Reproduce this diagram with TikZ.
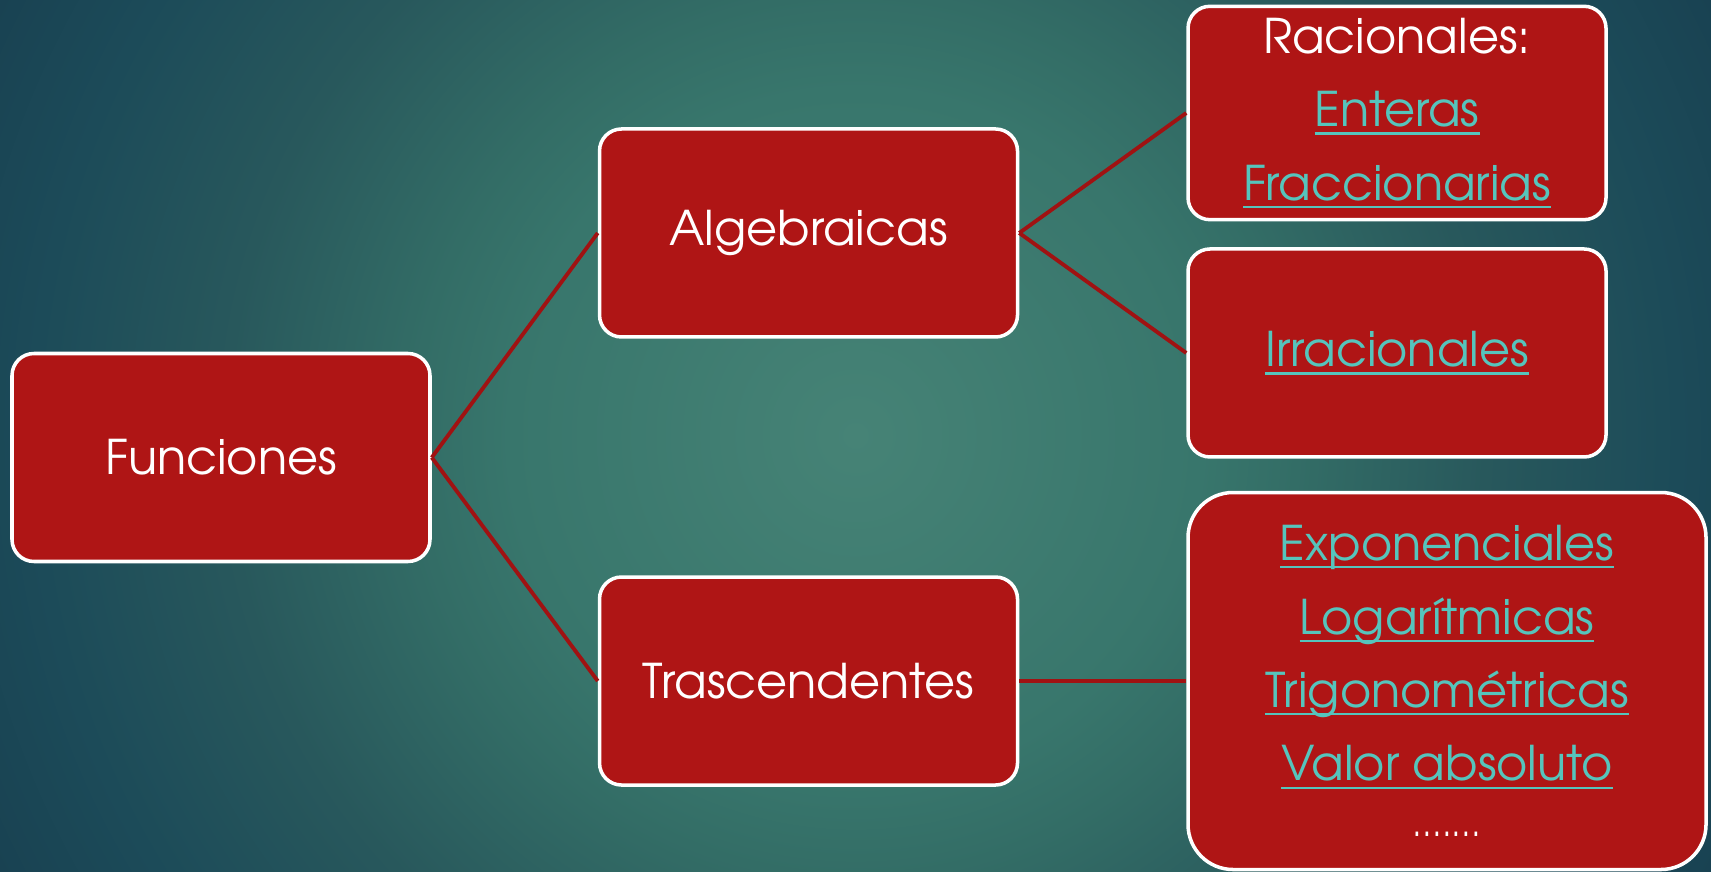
\documentclass[tikz,border=0pt]{standalone}
\usepackage{fontspec}
\setmainfont{TeX Gyre Adventor}
\usepackage{xcolor}
\usetikzlibrary{shapes, arrows.meta, positioning, calc}

\definecolor{boxred}{RGB}{175,21,21}
\definecolor{linkred}{RGB}{160,18,18}
\definecolor{linkteal}{RGB}{86,196,188}
% background ring colours, centre to rim
\definecolor{bgA}{RGB}{70,131,118}
\definecolor{bgB}{RGB}{56,118,108}
\definecolor{bgC}{RGB}{51,109,102}
\definecolor{bgD}{RGB}{40,88,92}
\definecolor{bgE}{RGB}{28,75,89}
\definecolor{bgF}{RGB}{25,66,82}

\pgfdeclareradialshading{slidebg}{\pgfpoint{0bp}{0bp}}{%
  color(0bp)=(bgA); color(9bp)=(bgB); color(11.5bp)=(bgC); color(16.4bp)=(bgD); color(21.4bp)=(bgE); color(25bp)=(bgF); color(50bp)=(bgF)}

\newsavebox{\linkbox}
\newcommand{\hlink}[1]{\textcolor{linkteal}{\sbox{\linkbox}{#1}\rlap{\rule[-2.2pt]{\wd\linkbox}{0.6pt}}\usebox{\linkbox}}}

\begin{document}
\begin{tikzpicture}[
                every node/.style={font=\fontsize{13.6}{20.9}\selectfont, text=white},
                branch/.style={rectangle, rounded corners=0.22cm, draw=white, line width=1pt, fill=boxred, minimum width=4.18cm, minimum height=2.08cm, align=center},
                biglist/.style={branch, rounded corners=0.45cm, minimum width=5.18cm, minimum height=3.77cm},
                line/.style={draw=linkred, line width=1.1pt}
            ]
            \begin{scope}
                \clip (0,0) rectangle (17.11,8.71);
                \shade[shading=slidebg] (8.555,4.355) circle (9.6cm);
            \end{scope}
            \useasboundingbox (0,0) rectangle (17.11,8.71);

            \node[branch] (fun) at (2.21,4.135) {Funciones};
            \node[branch, above right=0.13cm and 1.66cm of fun] (alg) {Algebraicas};
            \node[branch, below right=0.12cm and 1.66cm of fun] (tra) {Trascendentes};

            \node[branch, right=1.67cm of alg, yshift=1.2cm] (rac) {Racionales:\\ \hlink{Enteras}\\ \hlink{Fraccionarias}};
            \node[branch, right=1.67cm of alg, yshift=-1.2cm] (irr) {\hlink{Irracionales}};
            \node[biglist, right=1.67cm of tra] (tlist) {\hlink{Exponenciales}\\ \hlink{Logarítmicas}\\ \hlink{Trigonométricas}\\ \hlink{Valor absoluto}\\[-5pt] {\fontsize{10}{12}\selectfont .......}};

            \draw[line] (fun.east) -- (alg.west);
            \draw[line] (fun.east) -- (tra.west);
            \draw[line] (alg.east) -- (rac.west);
            \draw[line] (alg.east) -- (irr.west);
            \draw[line] (tra.east) -- (tlist.west);
        \end{tikzpicture}
\end{document}
